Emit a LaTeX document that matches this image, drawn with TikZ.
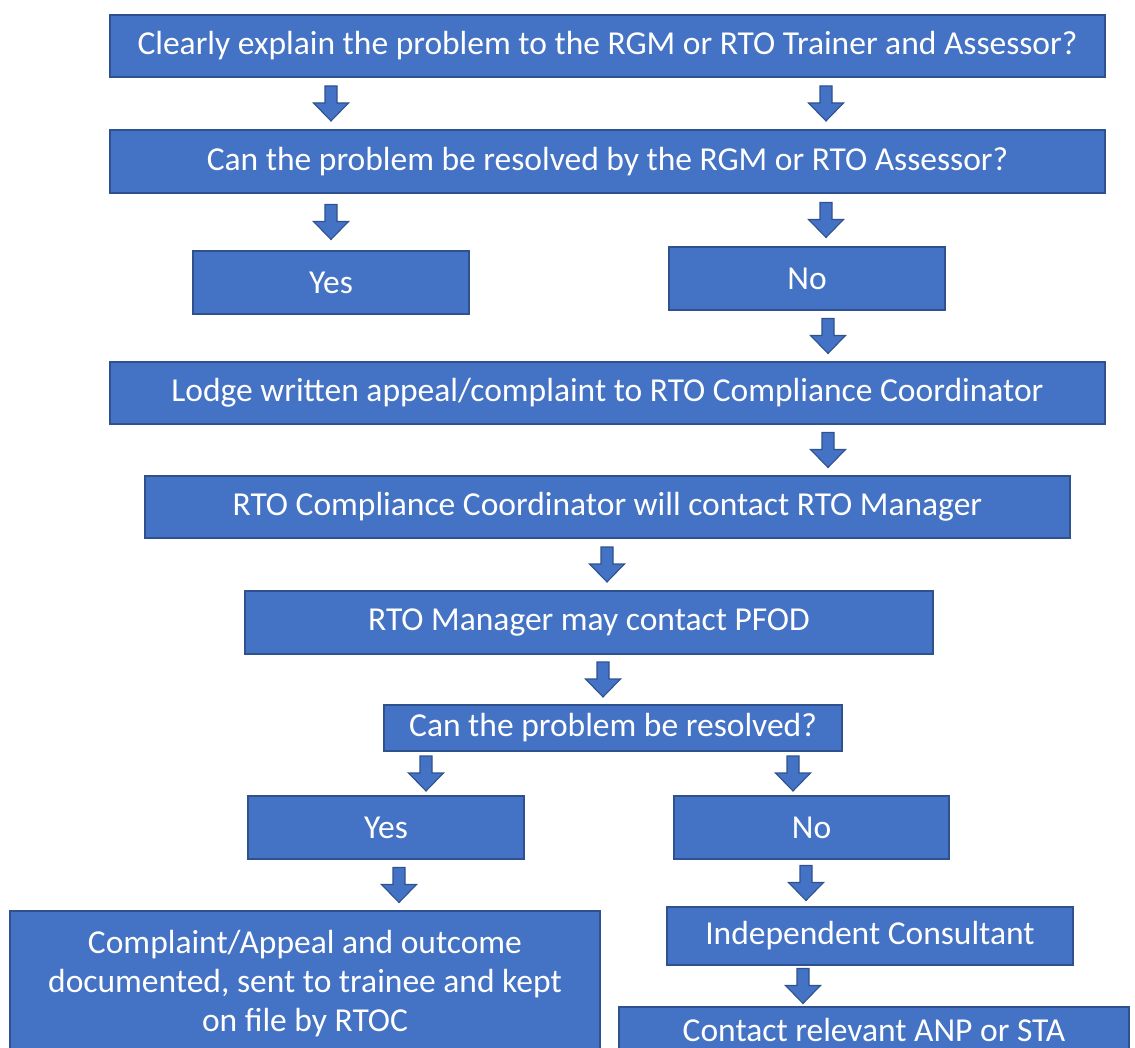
\documentclass[tikz,border=0pt]{standalone}
\usepackage{fontspec}
\setmainfont{Carlito}
\usetikzlibrary{calc}

\definecolor{boxblue}{HTML}{4472C4}
\definecolor{boxedge}{HTML}{2F528F}

% block arrow in the gap between two boxes, at a given x
\newcommand{\gaparrow}[3]{%
  \path (#3,0) coordinate (ax);
  \coordinate (am) at ($(#1.south -| ax)!0.5!(#2.north -| ax)$);
  \draw[blockarrow] ($(am)+(-6,17.5)$) -- ++(12,0) -- ++(0,-17) -- ++(11.5,0)
    -- ++(-17.5,-18) -- ++(-17.5,18) -- ++(11.5,0) -- cycle;
}

\begin{document}
\begin{tikzpicture}[x=1pt, y=1pt,
    stepbox/.style={rectangle, draw=boxedge, line width=1.3pt, fill=boxblue,
      text=white, font=\fontsize{33.5}{39}\selectfont, align=center, inner sep=0pt},
    blockarrow/.style={draw=boxedge, line width=1.1pt, fill=boxblue, line join=miter}]
        \useasboundingbox (0,0) rectangle (1135,-1048);
        \clip (0,0) rectangle (1135,-1048);

        % Erste Schritte
        \node[stepbox, minimum width=995, minimum height=62] (Q1) at (607.5, -46) {Clearly explain the problem to the RGM or RTO Trainer and Assessor?};
        \node[stepbox, minimum width=995, minimum height=63] (Q2) at (607.5, -161.5) {Can the problem be resolved by the RGM or RTO Assessor?};

        % Antworten
        \node[stepbox, minimum width=276, minimum height=63] (Y1) at (331, -282.5) {Yes};
        \node[stepbox, minimum width=276, minimum height=63] (N1) at (807, -278.5) {No};

        % Beschwerde
        \node[stepbox, minimum width=995, minimum height=62] (L) at (607.5, -393) {Lodge written appeal/complaint to RTO Compliance Coordinator};
        \node[stepbox, minimum width=925, minimum height=62] (C) at (607.5, -507) {RTO Compliance Coordinator will contact RTO Manager};
        \node[stepbox, minimum width=688, minimum height=63] (M) at (589, -622.5) {RTO Manager may contact PFOD};
        \node[stepbox, minimum width=458, minimum height=46] (Q3) at (613, -728) {Can the problem be resolved?};

        % Antworten
        \node[stepbox, minimum width=276, minimum height=63] (Y2) at (386, -827.5) {Yes};
        \node[stepbox, minimum width=275, minimum height=63] (N2) at (811.5, -827.5) {No};

        % Ergebnis
        \node[stepbox, minimum width=590, minimum height=146] (O) at (305, -984) {Complaint/Appeal and outcome\\documented, sent to trainee and kept\\on file by RTOC};
        \node[stepbox, minimum width=406, minimum height=58] (I) at (870, -936) {Independent Consultant};
        \node[stepbox, minimum width=510, minimum height=46] (A) at (874, -1030) {Contact relevant ANP or STA};

        % Verbindungen
        \gaparrow{Q1}{Q2}{331}
        \gaparrow{Q1}{Q2}{826}
        \gaparrow{Q2}{Y1}{331}
        \gaparrow{Q2}{N1}{826}
        \gaparrow{N1}{L}{828}
        \gaparrow{L}{C}{828}
        \gaparrow{C}{M}{607}
        \gaparrow{M}{Q3}{603}
        \gaparrow{Q3}{Y2}{426}
        \gaparrow{Q3}{N2}{793}
        \gaparrow{Y2}{O}{399}
        \gaparrow{N2}{I}{806}
        \gaparrow{I}{A}{803}

    \end{tikzpicture}
\end{document}
